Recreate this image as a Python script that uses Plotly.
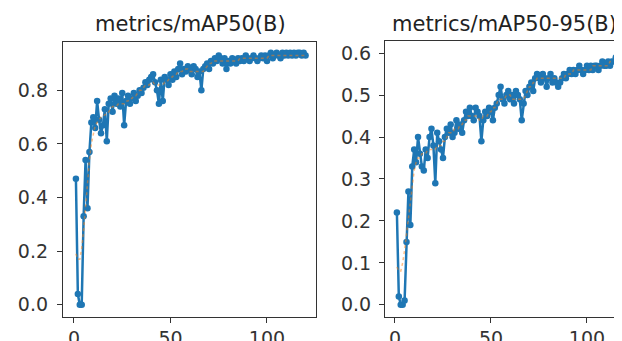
import plotly.graph_objects as go

epochs = list(range(1, 121))

map50 = [0.47, 0.04, 0.00, 0.00, 0.33, 0.54, 0.36, 0.57, 0.68, 0.70,
         0.66, 0.76, 0.69, 0.64, 0.67, 0.73, 0.61, 0.75, 0.77, 0.72,
         0.78, 0.75, 0.77, 0.74, 0.79, 0.67, 0.76, 0.78, 0.75, 0.77,
         0.79, 0.76, 0.78, 0.80, 0.79, 0.81, 0.83, 0.82, 0.84, 0.85,
         0.86, 0.83, 0.80, 0.75, 0.84, 0.76, 0.85, 0.84, 0.82, 0.86,
         0.84, 0.87, 0.85, 0.88, 0.90, 0.86, 0.88, 0.87, 0.89, 0.88,
         0.86, 0.89, 0.88, 0.85, 0.87, 0.80, 0.88, 0.89, 0.90, 0.88,
         0.91, 0.90, 0.92, 0.91, 0.93, 0.92, 0.90, 0.92, 0.88, 0.91,
         0.90, 0.92, 0.91, 0.90, 0.92, 0.91, 0.92, 0.91, 0.93, 0.92,
         0.91, 0.92, 0.93, 0.92, 0.91, 0.92, 0.93, 0.92, 0.93, 0.91,
         0.93, 0.94, 0.92, 0.93, 0.94, 0.93, 0.92, 0.94, 0.93, 0.94,
         0.93, 0.94, 0.93, 0.94, 0.93, 0.94, 0.94, 0.93, 0.94, 0.93]

map50_smooth = [0.19, 0.17, 0.17, 0.21, 0.28, 0.37, 0.46, 0.54, 0.60, 0.64,
                0.67, 0.68, 0.69, 0.70, 0.70, 0.71, 0.71, 0.72, 0.73, 0.74,
                0.74, 0.74, 0.75, 0.75, 0.75, 0.75, 0.76, 0.76, 0.77, 0.77,
                0.78, 0.78, 0.79, 0.80, 0.80, 0.81, 0.82, 0.82, 0.82, 0.83,
                0.83, 0.82, 0.82, 0.82, 0.82, 0.82, 0.83, 0.83, 0.84, 0.85,
                0.85, 0.86, 0.86, 0.87, 0.87, 0.87, 0.88, 0.88, 0.88, 0.87,
                0.87, 0.87, 0.87, 0.87, 0.87, 0.87, 0.87, 0.88, 0.89, 0.90,
                0.90, 0.91, 0.91, 0.91, 0.91, 0.91, 0.91, 0.91, 0.91, 0.91,
                0.91, 0.91, 0.91, 0.91, 0.91, 0.92, 0.92, 0.92, 0.92, 0.92,
                0.92, 0.92, 0.92, 0.92, 0.92, 0.92, 0.92, 0.92, 0.92, 0.92,
                0.93, 0.93, 0.93, 0.93, 0.93, 0.93, 0.93, 0.93, 0.93, 0.93,
                0.93, 0.93, 0.93, 0.93, 0.93, 0.93, 0.93, 0.93, 0.93, 0.93]

map5095 = [0.22, 0.02, 0.00, 0.00, 0.01, 0.15, 0.27, 0.19, 0.33, 0.37,
           0.34, 0.40, 0.36, 0.33, 0.32, 0.37, 0.35, 0.40, 0.42, 0.38,
           0.29, 0.41, 0.39, 0.37, 0.35, 0.40, 0.42, 0.41, 0.43, 0.40,
           0.41, 0.44, 0.42, 0.43, 0.41, 0.44, 0.46, 0.45, 0.47, 0.45,
           0.44, 0.47, 0.46, 0.45, 0.39, 0.44, 0.46, 0.45, 0.47, 0.46,
           0.44, 0.47, 0.48, 0.50, 0.52, 0.49, 0.48, 0.50, 0.51, 0.49,
           0.50, 0.48, 0.51, 0.50, 0.49, 0.44, 0.48, 0.51, 0.50, 0.52,
           0.53, 0.51, 0.54, 0.55, 0.54, 0.53, 0.55, 0.54, 0.52, 0.54,
           0.55, 0.53, 0.54, 0.53, 0.52, 0.53, 0.54, 0.55, 0.54, 0.55,
           0.56, 0.55, 0.56, 0.55, 0.56, 0.57, 0.56, 0.55, 0.56, 0.57,
           0.56, 0.57, 0.56, 0.57, 0.57, 0.56, 0.57, 0.58, 0.57, 0.57,
           0.58, 0.57, 0.58, 0.58, 0.59, 0.58, 0.59, 0.60, 0.59, 0.59]

map5095_smooth = [0.09, 0.08, 0.08, 0.10, 0.13, 0.17, 0.21, 0.25, 0.29, 0.32,
                  0.34, 0.35, 0.35, 0.36, 0.36, 0.36, 0.37, 0.37, 0.37, 0.37,
                  0.37, 0.38, 0.38, 0.38, 0.39, 0.39, 0.40, 0.41, 0.41, 0.41,
                  0.42, 0.42, 0.42, 0.43, 0.43, 0.44, 0.44, 0.45, 0.45, 0.45,
                  0.45, 0.45, 0.45, 0.44, 0.44, 0.45, 0.45, 0.45, 0.46, 0.46,
                  0.47, 0.47, 0.48, 0.49, 0.49, 0.49, 0.49, 0.50, 0.50, 0.50,
                  0.49, 0.49, 0.49, 0.49, 0.49, 0.49, 0.49, 0.50, 0.51, 0.52,
                  0.52, 0.53, 0.53, 0.54, 0.54, 0.54, 0.54, 0.54, 0.54, 0.54,
                  0.54, 0.54, 0.54, 0.54, 0.54, 0.54, 0.54, 0.54, 0.55, 0.55,
                  0.55, 0.55, 0.56, 0.56, 0.56, 0.56, 0.56, 0.56, 0.56, 0.56,
                  0.56, 0.56, 0.57, 0.57, 0.57, 0.57, 0.57, 0.57, 0.57, 0.57,
                  0.57, 0.58, 0.58, 0.58, 0.58, 0.58, 0.59, 0.59, 0.59, 0.59]

titles = ["metrics/mAP50(B)", "metrics/mAP50-95(B)"]
left_yticks = [0.0, 0.2, 0.4, 0.6, 0.8]
right_yticks = [0.0, 0.1, 0.2, 0.3, 0.4, 0.5, 0.6]
xticks = [0, 50, 100]

BLUE = "#1f77b4"
ORANGE = "#ff7f0e"
FONT = "DejaVu Sans"

fig = go.Figure()

fig.add_trace(go.Scatter(x=epochs, y=map50, mode="lines+markers",
                         line=dict(color=BLUE, width=2.5),
                         marker=dict(color=BLUE, size=6.5),
                         xaxis="x", yaxis="y", showlegend=False))
fig.add_trace(go.Scatter(x=epochs, y=map50_smooth, mode="lines",
                         line=dict(color=ORANGE, width=1.5, dash="dot"),
                         opacity=0.5,
                         xaxis="x", yaxis="y", showlegend=False))
fig.add_trace(go.Scatter(x=epochs, y=map5095, mode="lines+markers",
                         line=dict(color=BLUE, width=2.5),
                         marker=dict(color=BLUE, size=6.5),
                         xaxis="x2", yaxis="y2", showlegend=False))
fig.add_trace(go.Scatter(x=epochs, y=map5095_smooth, mode="lines",
                         line=dict(color=ORANGE, width=1.5, dash="dot"),
                         opacity=0.5,
                         xaxis="x2", yaxis="y2", showlegend=False))

axis_common = dict(showgrid=False, zeroline=False, showline=True,
                   linecolor="#333333", linewidth=1.2,
                   ticks="outside", ticklen=5, tickwidth=1.2, tickcolor="#333333",
                   tickfont=dict(family=FONT, size=19, color="#333333"))

fig.update_layout(
    width=622, height=341,
    margin=dict(l=0, r=0, t=0, b=0),
    paper_bgcolor="white", plot_bgcolor="white",
    xaxis=dict(domain=[0.0884, 0.4952], range=[-5.7, 125.4],
               tickvals=xticks, mirror=True, anchor="y", **axis_common),
    yaxis=dict(domain=[0.0762, 0.897], range=[-0.044, 0.979],
               tickvals=left_yticks, tickformat=".1f", mirror=True, anchor="x",
               ticklabelstandoff=5, **axis_common),
    xaxis2=dict(domain=[0.6061, 1.0], range=[-5.2, 122.4],
                tickvals=xticks, mirror=True, anchor="y2", **axis_common),
    yaxis2=dict(domain=[0.0762, 0.90], range=[-0.028, 0.628],
                tickvals=right_yticks, tickformat=".1f", mirror=False, anchor="x2",
                ticklabelstandoff=4, **axis_common),
    annotations=[
        dict(text=titles[0], x=182 / 622, y=1 - 16 / 341, xref="paper", yref="paper",
             xanchor="center", yanchor="middle", showarrow=False,
             font=dict(family=FONT, size=21, color="#222222")),
        dict(text=titles[1], x=496 / 622, y=1 - 16 / 341, xref="paper", yref="paper",
             xanchor="center", yanchor="middle", showarrow=False,
             font=dict(family=FONT, size=21, color="#222222")),
    ],
)

fig.write_html("out.html")
